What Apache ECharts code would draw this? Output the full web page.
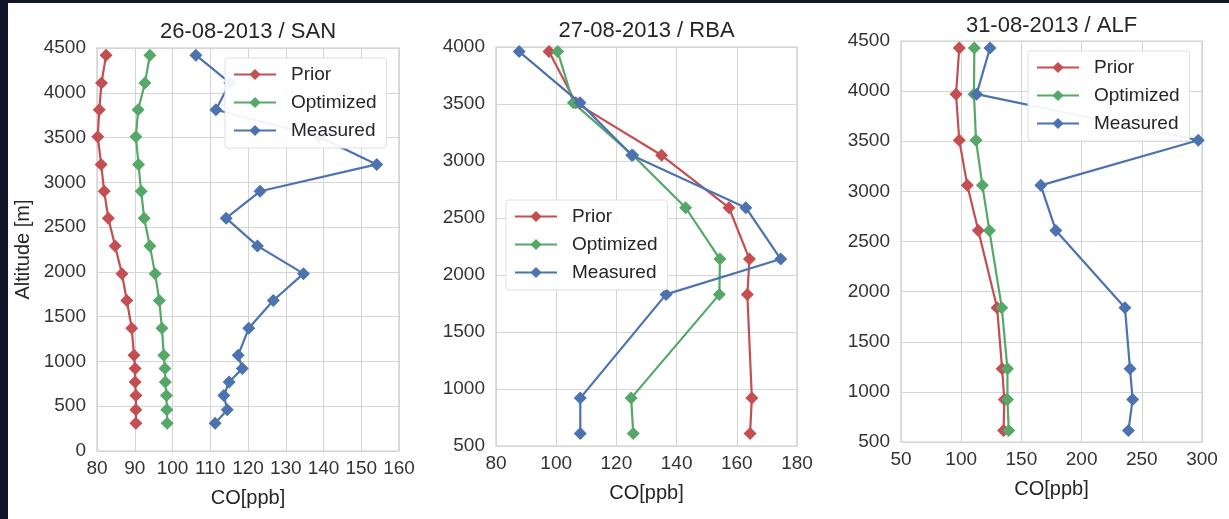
<!DOCTYPE html>
<html>
<head>
<meta charset="utf-8">
<script src="https://cdn.jsdelivr.net/npm/echarts@6/dist/echarts.min.js"></script>
<style>
  html, body { margin: 0; padding: 0; background: #ffffff; }
  #frameTop { position: absolute; left: 0; top: 0; width: 1229px; height: 3px; background: #12162a; z-index: 5; }
  #frameLeft { position: absolute; left: 0; top: 0; width: 8px; height: 519px; background: #12162a; z-index: 5; }
  #chart { position: absolute; left: 0; top: 0; width: 1229px; height: 519px; }
</style>
</head>
<body>
<div id="chart"></div>
<div id="frameTop"></div>
<div id="frameLeft"></div>
<script>
// ---- Data ----
const seriesNames = ['Prior', 'Optimized', 'Measured'];
const titles = ['26-08-2013 / SAN', '27-08-2013 / RBA', '31-08-2013 / ALF'];

// Panel 1: 26-08-2013 / SAN
const alt1 = [4420, 4110, 3810, 3510, 3200, 2900, 2600, 2290, 1980, 1680, 1370, 1070, 920, 770, 620, 460, 310];
const prior1 = [82.4, 81.2, 80.6, 80.2, 81.1, 81.9, 83.0, 84.8, 86.6, 87.9, 89.2, 89.8, 90.1, 90.1, 90.3, 90.3, 90.3];
const opt1 = [94.0, 92.7, 90.9, 90.3, 91.0, 91.7, 92.5, 94.0, 95.4, 96.5, 97.2, 97.7, 98.0, 98.1, 98.4, 98.5, 98.6];
const meas1 = [106.2, 115.2, 111.5, 138.8, 154.1, 123.2, 114.2, 122.5, 134.7, 126.7, 120.2, 117.4, 118.5, 115.0, 113.6, 114.5, 111.3];

// Panel 2: 27-08-2013 / RBA
const alt2 = [3960, 3510, 3050, 2590, 2140, 1830, 920, 610];
const prior2 = [97.6, 106.5, 135.0, 157.4, 164.2, 163.5, 165.0, 164.4];
const opt2 = [100.5, 105.7, 125.5, 143.0, 154.4, 154.2, 124.9, 125.6];
const meas2 = [87.7, 107.9, 125.1, 163.0, 174.6, 136.5, 108.0, 108.0];

// Panel 3: 31-08-2013 / ALF
const alt3 = [4430, 3970, 3510, 3060, 2610, 1840, 1230, 925, 615];
const prior3 = [98.4, 95.7, 98.4, 105.1, 114.2, 129.8, 134.0, 135.8, 135.2];
const opt3 = [110.9, 110.6, 112.3, 117.6, 123.4, 133.7, 138.4, 138.4, 139.5];
const meas3 = [123.9, 112.8, 296.9, 166.1, 178.6, 236.0, 240.2, 242.4, 238.9];

// Axis ranges
const xRanges = [[80, 160, 10], [80, 180, 20], [50, 300, 50]];
const yRanges = [[0, 4500, 500], [500, 4000, 500], [500, 4500, 500]];

// ---- Styling / layout ----
const colors = ['#C44E52', '#55A868', '#4C72B0'];
const grids = [
  { left: 97, top: 48, width: 302, height: 403 },
  { left: 496, top: 47, width: 301, height: 399 },
  { left: 901, top: 41, width: 301, height: 401 }
];
const titleTops = [21, 20, 15];
const legendPos = [
  { left: 225, top: 58 },
  { left: 506, top: 200 },
  { left: 1028, top: 51 }
];
const txt = '#333333';
const gridColor = '#d5d5d5';
const font = 'Liberation Sans, Arial, sans-serif';

const panels = [
  { alt: alt1, vals: [prior1, opt1, meas1] },
  { alt: alt2, vals: [prior2, opt2, meas2] },
  { alt: alt3, vals: [prior3, opt3, meas3] }
];

const plain = v => String(v);

const option = {
  animation: false,
  backgroundColor: '#ffffff',
  textStyle: { fontFamily: font },
  title: titles.map((t, i) => ({
    text: t,
    left: grids[i].left + grids[i].width / 2,
    top: titleTops[i],
    textAlign: 'center',
    padding: 0,
    textStyle: { fontSize: 22, fontWeight: 'normal', color: '#262626', fontFamily: font }
  })),
  grid: grids.map(g => Object.assign({ show: true, borderColor: '#cccccc', borderWidth: 1.2, backgroundColor: 'transparent', containLabel: false }, g)),
  legend: legendPos.map((p, i) => ({
    data: seriesNames,
    orient: 'vertical',
    left: p.left,
    top: p.top,
    itemWidth: 42,
    itemHeight: 14,
    itemGap: 9,
    padding: [7, 10, 8, 8],
    backgroundColor: 'rgba(255,255,255,0.92)',
    borderColor: '#e0e0e0',
    borderWidth: 1,
    borderRadius: 3,
    selectedMode: false,
    z: 10,
    textStyle: { fontSize: 19, color: '#262626', fontFamily: font, padding: [0, 0, 0, 10] }
  })),
  xAxis: xRanges.map((r, i) => ({
    type: 'value',
    gridIndex: i,
    min: r[0], max: r[1], interval: r[2],
    name: 'CO[ppb]',
    nameLocation: 'middle',
    nameGap: 37,
    nameTextStyle: { fontSize: 20, color: '#262626', fontFamily: font },
    axisLine: { show: false },
    axisTick: { show: false },
    axisLabel: { fontSize: 19, color: txt, margin: 8, fontFamily: font, formatter: plain },
    splitLine: { show: true, lineStyle: { color: gridColor, width: 1 } }
  })),
  yAxis: yRanges.map((r, i) => ({
    type: 'value',
    gridIndex: i,
    min: r[0], max: r[1], interval: r[2],
    name: i === 0 ? 'Altitude [m]' : '',
    nameLocation: 'middle',
    nameGap: 64,
    nameTextStyle: { fontSize: 20, color: '#262626', fontFamily: font },
    axisLine: { show: false },
    axisTick: { show: false },
    axisLabel: { fontSize: 19, color: txt, margin: 11, fontFamily: font, formatter: plain },
    splitLine: { show: true, lineStyle: { color: gridColor, width: 1 } }
  })),
  series: []
};

panels.forEach((p, gi) => {
  p.vals.forEach((v, si) => {
    option.series.push({
      type: 'line',
      name: seriesNames[si],
      xAxisIndex: gi,
      yAxisIndex: gi,
      data: v.map((x, k) => [x, p.alt[k]]),
      symbol: 'diamond',
      symbolSize: 13,
      showAllSymbol: true,
      clip: true,
      color: colors[si],
      itemStyle: { color: colors[si] },
      lineStyle: { color: colors[si], width: 2.2 },
      z: 2 + si
    });
  });
});

const chart = echarts.init(document.getElementById('chart'), null, { renderer: 'canvas' });
chart.setOption(option);
</script>
</body>
</html>
